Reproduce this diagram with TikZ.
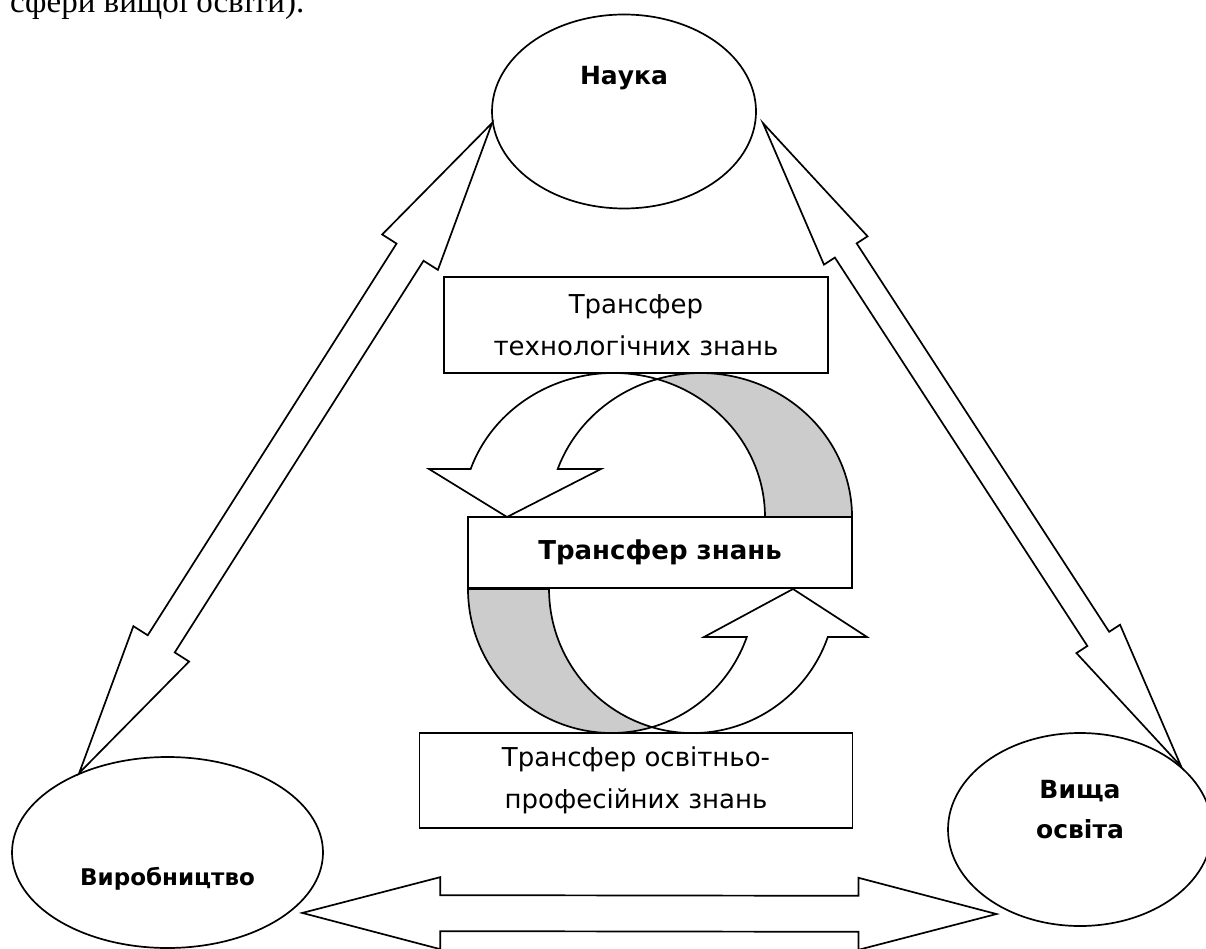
\documentclass[tikz,border=0pt]{standalone}
\usepackage{fontspec}
\setmainfont{DejaVu Sans}
\newfontfamily\bodyserif{Liberation Serif}
\usetikzlibrary{shapes.geometric, calc}

\tikzset{
  bubble/.style={draw, ellipse, line width=1.7pt, fill=white, inner sep=0pt},
  caption/.style={font=\bfseries\fontsize{25}{40}\selectfont, align=center},
  box/.style={draw, rectangle, line width=1.7pt, fill=white, align=center,
    font=\fontsize{26}{42}\selectfont},
  bigarrow/.style={draw, line width=1.7pt, fill=white, line join=miter},
  backside/.style={draw, line width=1.7pt, fill=black!20},
}

% block arrow with a head at both ends
\newcommand{\twoway}[5]{%
  \coordinate (ba) at ($(#1)!#3!(#2)$);
  \coordinate (bb) at ($(#2)!#3!(#1)$);
  \draw[bigarrow] (#1) -- ($(ba)!#4!90:(#2)$) -- ($(ba)!#5!90:(#2)$)
    -- ($(bb)!#5!-90:(#1)$) -- ($(bb)!#4!-90:(#1)$) -- (#2)
    -- ($(bb)!#4!90:(#1)$) -- ($(bb)!#5!90:(#1)$)
    -- ($(ba)!#5!-90:(#2)$) -- ($(ba)!#4!-90:(#2)$) -- cycle;
}

\begin{document}
\begin{tikzpicture}[x=1pt, y=-1pt]
    \useasboundingbox (0,0) rectangle (1206,949);
    % running text cut at the top
    \node[anchor=base west, inner sep=0pt, font=\bodyserif\fontsize{33}{38}\selectfont] (runon) at (10,13) {сфери вищої освіти).};
    % Spheres
    \node[bubble, minimum width=264pt, minimum height=194pt] (nauka) at (624,111.5) {};
    \node[bubble, minimum width=311pt, minimum height=191pt] (vyrob) at (167.5,852.5) {};
    \node[bubble, minimum width=264pt, minimum height=193pt] (osvita) at (1080,829.5) {};
    \node[caption] (naukaT) at ([yshift=33pt]nauka.center) {Наука};
    \node[caption, font=\bfseries\fontsize{23}{40}\selectfont] (vyrobT) at ([yshift=-26pt]vyrob.center) {Виробництво};
    \node[caption] (osvitaT) at ([yshift=20pt]osvita.center) {Вища\\освіта};
    % Links between spheres
    \coordinate (nr) at ([xshift=7pt]nauka.-5);
    \coordinate (hl) at ([shift={(8,4)}]vyrob.-24.5);
    \coordinate (hr) at ([shift={(-5,6)}]osvita.225);
    \twoway{nauka.185}{vyrob.138}{153pt}{33pt}{16pt}
    \twoway{nr}{osvita.32}{152pt}{26pt}{13pt}
    \twoway{hl}{hr}{138pt}{36pt}{18pt}
    % Upper turning arrow
    \def\ra{151.5}
    \def\rb{144}
    \draw[backside] (657,379.1) arc[start angle=253.3, end angle=360, x radius=\ra, y radius=\rb]
      -- (765,517) arc[start angle=360, end angle=286.7, x radius=\ra, y radius=\rb] -- cycle;
    \draw[bigarrow] (470.65,469) arc[start angle=199.47, end angle=286.7, x radius=\ra, y radius=\rb]
      arc[start angle=253.3, end angle=199.47, x radius=\ra, y radius=\rb]
      -- (601,469) -- (507,517) -- (429,469) -- cycle;
    % Lower turning arrow
    \def\sa{143.5}
    \draw[backside] (468,589) arc[start angle=180, end angle=73.6, x radius=\sa, y radius=\rb]
      arc[start angle=106.4, end angle=180, x radius=\sa, y radius=\rb] -- cycle;
    \draw[bigarrow] (652,727.2) arc[start angle=106.4, end angle=19.47, x radius=\sa, y radius=\rb]
      -- (867,637) -- (793,589) -- (704,637) -- (746.8,637)
      arc[start angle=19.47, end angle=73.6, x radius=\sa, y radius=\rb] -- cycle;
    % Boxes
    \node[box, minimum width=384pt, minimum height=96pt] (techn) at (636,325) {Трансфер\\технологічних знань};
    \node[box, font=\bfseries\fontsize{26}{30}\selectfont, minimum width=384pt, minimum height=71pt] (znan) at (660,552.5) {Трансфер знань};
    \node[box, minimum width=433pt, minimum height=95pt] (osvprof) at (636,780.5) {Трансфер освітньо-\\професійних знань};
\end{tikzpicture}
\end{document}
